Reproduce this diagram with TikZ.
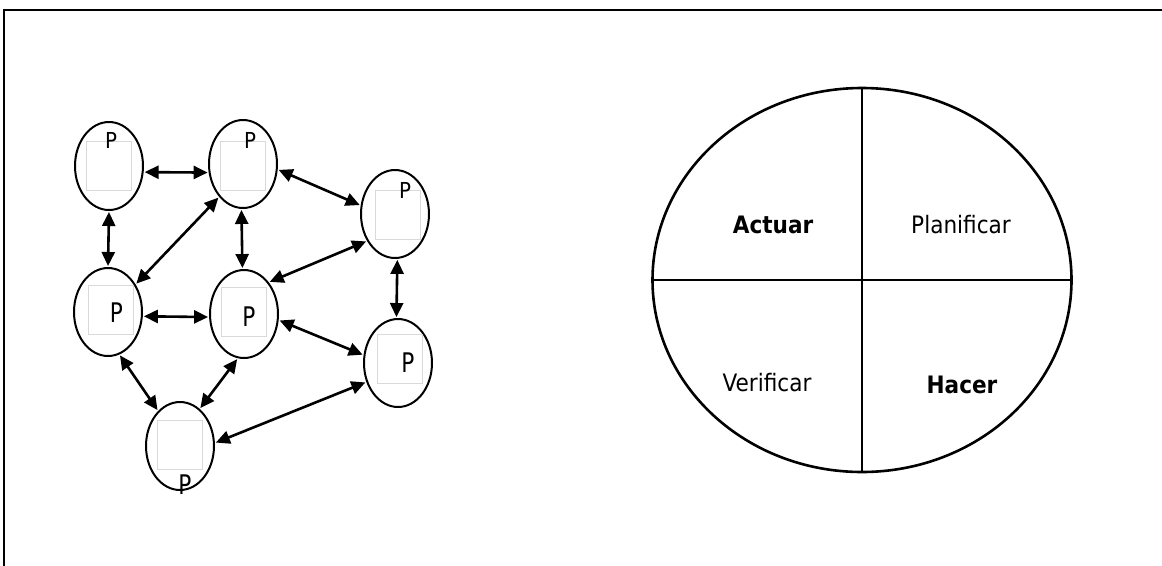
\documentclass[tikz,border=0pt]{standalone}
\usepackage{fontspec}
\setmainfont{DejaVu Sans}
\newfontfamily\cfont[FakeStretch=0.9]{DejaVu Sans}
\newfontfamily\nfont[FakeStretch=0.8]{DejaVu Sans}
\usetikzlibrary{shapes.geometric,arrows.meta}
\tikzset{
  pell/.style={ellipse, draw, line width=2pt, minimum width=68pt, minimum height=88pt, inner sep=0pt},
  sq/.style={draw=black!15, line width=1pt, fill=white, minimum width=45pt, minimum height=49pt, inner sep=0pt},
  plab/.style={inner sep=0pt, font=\cfont\fontsize{22}{24}\selectfont},
  plabl/.style={inner sep=0pt, font=\nfont\fontsize{27}{29}\selectfont},
  conn/.style={{Triangle[length=14pt,width=13pt]}-{Triangle[length=14pt,width=13pt]}, line width=2.6pt, shorten <=1pt, shorten >=1pt},
  quad/.style={inner sep=0pt, font=\cfont\fontsize{24}{26}\selectfont},
  quadb/.style={inner sep=0pt, font=\cfont\fontsize{24}{26}\selectfont\bfseries}
}
\begin{document}
\begin{tikzpicture}[x=1pt,y=-1pt]
\useasboundingbox (0,0) rectangle (1162,565);
\fill[white] (0,0) rectangle (1162,565);
% frame
\coordinate (f1) at (4,566);
\coordinate (f2) at (4,10);
\coordinate (f3) at (1163,10);
\draw[line width=2.4pt] (f1) -- (f2) -- (f3);

% small ellipses
\node[pell] (A) at (109,166) {};
\node[pell] (B) at (243,164) {};
\node[pell] (C) at (395,214) {};
\node[pell] (D) at (108,312) {};
\node[pell] (E) at (244,314) {};
\node[pell] (F) at (398,363) {};
\node[pell] (G) at (180,446) {};

% inner squares
\node[sq] (sA) at (108.5,165.5) {};
\node[sq] (sB) at (243,166) {};
\node[sq] (sC) at (398,214.5) {};
\node[sq] (sD) at (110.5,310) {};
\node[sq] (sE) at (243.5,312) {};
\node[sq] (sF) at (400,359) {};
\node[sq] (sG) at (180,445) {};

% P labels
\node[plab] (pA) at (111,140) {P};
\node[plab] (pB) at (250,140) {P};
\node[plab] (pC) at (405,190) {P};
\node[plabl] (pD) at (116.5,313) {P};
\node[plabl] (pE) at (249,317) {P};
\node[plabl] (pF) at (408,363) {P};
\node[plabl] (pG) at (185,485) {P};

% connectors
\draw[conn] (A.-10) -- (B.194);
\draw[conn] (A.-90) -- (D.90);
\draw[conn] (B.-126) -- (D.45);
\draw[conn] (B.-92) -- (E.92);
\draw[conn] (B.-9) -- (C.166);
\draw[conn] (C.224) -- (E.52);
\draw[conn] (C.-87) -- (F.92);
\draw[conn] (D.-7) -- (E.185);
\draw[conn] (E.-10) -- (F.167);
\draw[conn] (D.-75) -- (G.122);
\draw[conn] (E.-98) -- (G.62);
\draw[conn] (G.5) -- (F.211);

% PDCA circle
\node[ellipse, draw, line width=2.6pt, minimum width=419pt, minimum height=384pt, inner sep=0pt] (big) at (862,280) {};
\draw[line width=2.6pt] (big.north) -- (big.south);
\draw[line width=2.6pt] (big.west) -- (big.east);
\node[quadb] (act) at (773,225) {Actuar};
\node[quad] (pla) at (961,225) {Planificar};
\node[quad] (ver) at (767,383) {Verificar};
\node[quadb] (hac) at (962,385) {Hacer};
\end{tikzpicture}
\end{document}
